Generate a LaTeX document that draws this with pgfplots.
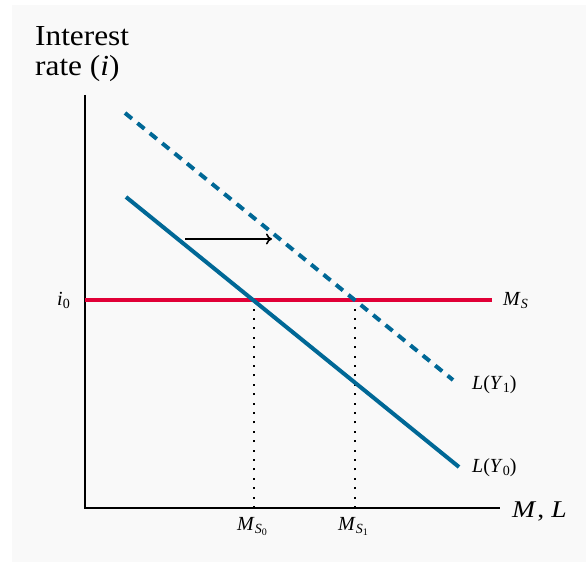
\documentclass[border=0pt]{standalone}
\usepackage{fontspec}
\setmainfont{Liberation Serif}
\newfontfamily\widefont[FakeStretch=1.15]{Liberation Serif}
\newfontfamily\titlefont[FakeStretch=1.08]{Liberation Serif}
\usepackage{pgfplots}
\pgfplotsset{compat=1.18}
\usetikzlibrary{arrows.meta}
\definecolor{bg}{RGB}{249,249,249}
\definecolor{lblue}{RGB}{0,104,150}
\definecolor{msred}{RGB}{225,0,55}
\newcommand{\sz}[1]{\fontsize{#1}{#1}\selectfont}
\newcommand{\lowsub}[2]{\raisebox{-0.3ex}{\sz{#1}#2}}
\begin{document}
\begin{tikzpicture}
\begin{axis}[
  width=586pt, height=562pt, scale only axis,
  xmin=-85, xmax=501, ymin=-54, ymax=508,
  hide axis, clip=false,
]
\path (rel axis cs:0,0) rectangle (rel axis cs:1,1);
\fill[bg] (axis cs:-73,-54) rectangle (axis cs:501,503);
% axes
\draw[black, line width=2pt] (axis cs:0,413) -- (axis cs:0,0) -- (axis cs:415,0);
% dotted guides
\addplot[black, line width=2pt, dash pattern=on 2pt off 7.4pt, forget plot] coordinates {(169,0) (169,208)};
\addplot[black, line width=2pt, dash pattern=on 2pt off 7.4pt, forget plot] coordinates {(270,0) (270,208)};
% money supply
\addplot[msred, line width=4pt, forget plot] coordinates {(0,208) (407,208)};
% L(Y0)
\addplot[lblue, line width=4pt, forget plot] coordinates {(41,311) (374,41)};
% L(Y1)
\addplot[lblue, line width=4pt, dash pattern=on 9pt off 7pt, forget plot] coordinates {(40,395) (368,128)};
% shift arrow
\addplot[black, line width=1.6pt, -{To[length=6pt,width=11pt]}, forget plot] coordinates {(100,269) (187,269)};
% labels
\node[anchor=base west, font=\titlefont\sz{29}, inner sep=0pt] at (axis cs:-50,462) {Interest};
\node[anchor=base west, font=\titlefont\sz{29}, inner sep=0pt] at (axis cs:-50,432) {rate (\textit{i})};
\node[anchor=base west, font=\widefont\sz{24}, inner sep=0pt] at (axis cs:427,-9) {\textit{M}\hspace{1pt},\hspace{7pt}\textit{L}};
\node[anchor=base, font=\sz{20}, inner sep=0pt] at (axis cs:167,-23) {\textit{M}\raisebox{-0.3ex}{\sz{14}\textit{S}\lowsub{10}{0}}};
\node[anchor=base, font=\sz{20}, inner sep=0pt] at (axis cs:268,-23) {\textit{M}\raisebox{-0.3ex}{\sz{14}\textit{S}\lowsub{10}{1}}};
\node[anchor=base west, font=\sz{20}, inner sep=0pt] at (axis cs:387,118) {\textit{L}(\textit{Y}\lowsub{14}{1})};
\node[anchor=base west, font=\sz{20}, inner sep=0pt] at (axis cs:387,35) {\textit{L}(\textit{Y}\lowsub{14}{0})};
\node[anchor=base west, font=\sz{20}, inner sep=0pt] at (axis cs:418,202) {\textit{M}\lowsub{14}{\textit{S}}};
\node[anchor=base east, font=\sz{20}, inner sep=0pt] at (axis cs:-15,202) {\textit{i}\lowsub{14}{0}};
\end{axis}
\end{tikzpicture}
\end{document}
